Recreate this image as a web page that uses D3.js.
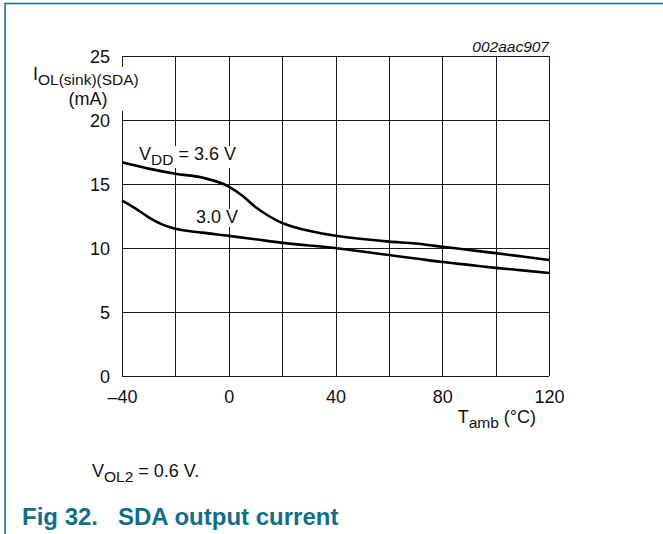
<!DOCTYPE html>
<html><head><meta charset="utf-8">
<script src="https://cdn.jsdelivr.net/npm/d3@7"></script>
<style>body{margin:0;background:#fff}svg{display:block}text{font-family:"Liberation Sans",Arial,sans-serif}</style>
</head><body><svg id="c" width="663" height="534"></svg>
<script>
const xTicks = [-40, 0, 40, 80, 120];
const xGrid = [-40, -20, 0, 20, 40, 60, 80, 100, 120];
const yTicks = [0, 5, 10, 15, 20, 25];
const temps36 = [-40, -30, -20, -10, 0, 5, 10, 15, 20, 25, 30, 40, 50, 60, 70, 80, 90, 100, 110, 120];
const vdd36 = [16.7, 16.2, 15.8, 15.5, 14.8, 14.1, 13.2, 12.5, 11.95, 11.6, 11.35, 10.95, 10.7, 10.5, 10.35, 10.1, 9.85, 9.6, 9.33, 9.06];
const temps30 = [-40, -35, -30, -25, -20, -10, 0, 10, 20, 30, 40, 50, 60, 70, 80, 90, 100, 110, 120];
const vdd30 = [13.7, 13.1, 12.4, 11.85, 11.5, 11.2, 10.95, 10.68, 10.4, 10.2, 10.0, 9.72, 9.45, 9.18, 8.9, 8.68, 8.45, 8.25, 8.05];

const svg = d3.select("#c");
const teal = "#0f6f8a";
const FS = 18, SUB = 15.5;
const x = d3.scaleLinear().domain([-40, 120]).range([122, 549]);
const y = d3.scaleLinear().domain([0, 25]).range([376, 56]);

// frame
svg.append("path").attr("d", "M5,534 V3.5 H663").attr("fill", "none").attr("stroke", teal).attr("stroke-width", 1.5);

const gridL = svg.append("g");
const bgL = svg.append("g");
const curveL = svg.append("g");
const textL = svg.append("g");

// grid
gridL.selectAll(".vg").data(xGrid).join("line")
  .attr("x1", d => Math.round(x(d)) + 0.5).attr("x2", d => Math.round(x(d)) + 0.5)
  .attr("y1", y(25)).attr("y2", y(0)).attr("stroke", "#1a1a1a").attr("stroke-width", 1);
gridL.selectAll(".hg").data(yTicks).join("line")
  .attr("x1", x(-40)).attr("x2", x(120))
  .attr("y1", d => Math.round(y(d)) + 0.5).attr("y2", d => Math.round(y(d)) + 0.5)
  .attr("stroke", "#1a1a1a").attr("stroke-width", 1);

// axes tick labels
const yAxis = d3.axisLeft(y).tickValues(yTicks).tickSize(0).tickPadding(12);
const ya = textL.append("g").attr("transform", "translate(122,0)").call(yAxis);
ya.select(".domain").remove();
ya.selectAll("text").attr("font-size", FS).attr("fill", "#111").attr("dy", "0.36em");

const xAxis = d3.axisBottom(x).tickValues(xTicks).tickSize(0).tickPadding(0).tickFormat(d => d < 0 ? "\u2013" + Math.abs(d) : d);
const xa = textL.append("g").attr("transform", "translate(0,376)").call(xAxis);
xa.select(".domain").remove();
xa.selectAll("text").attr("font-size", FS).attr("fill", "#111").attr("y", 27).attr("dy", 0);

// curves
const line = d3.line().x(d => x(d[0])).y(d => y(d[1])).curve(d3.curveMonotoneX);
curveL.append("path").datum(temps36.map((t, i) => [t, vdd36[i]])).attr("d", line)
  .attr("fill", "none").attr("stroke", "#000").attr("stroke-width", 2.6);
curveL.append("path").datum(temps30.map((t, i) => [t, vdd30[i]])).attr("d", line)
  .attr("fill", "none").attr("stroke", "#000").attr("stroke-width", 2.6);

// label helper with white background under the curves
function label(xp, yp, parts, anchor, bg) {
  const t = textL.append("text").attr("x", xp).attr("y", yp).attr("font-size", FS).attr("fill", "#111").attr("text-anchor", anchor || "start");
  parts.forEach(p => {
    const s = t.append("tspan").text(p.t);
    if (p.sub) s.attr("font-size", SUB).attr("dy", 5);
    else if (p.back) s.attr("dy", -5);
  });
  if (bg) {
    const bb = t.node().getBBox();
    bgL.append("rect").attr("x", bb.x - 2).attr("y", bb.y + 2).attr("width", bb.width + 4).attr("height", bb.height - 2).attr("fill", "#fff");
  }
  return t;
}

label(139, 160, [{t: "V"}, {t: "DD", sub: true}, {t: " = 3.6 V", back: true}], "start", true);
label(196, 223, [{t: "3.0 V"}], "start", true);
// y-axis title with background masking the axis line
const yl1 = label(33, 80, [{t: "I"}, {t: "OL(sink)(SDA)", sub: true}], "start", false);
label(88, 105, [{t: "(mA)"}], "middle", false);
const b1 = yl1.node().getBBox();
bgL.append("rect").attr("x", b1.x - 2).attr("y", 67).attr("width", b1.width + 4).attr("height", 44).attr("fill", "#fff");
label(536, 423, [{t: "T"}, {t: "amb", sub: true}, {t: " (\u00B0C)", back: true}], "end", false);

textL.append("text").attr("x", 549).attr("y", 52).attr("text-anchor", "end").attr("font-size", 15.5).attr("font-style", "italic").attr("fill", "#111").text("002aac907");

label(92, 477, [{t: "V"}, {t: "OL2", sub: true}, {t: " = 0.6 V.", back: true}], "start", false);

const f = textL.append("text").attr("x", 22).attr("y", 525).attr("font-size", 24).attr("font-weight", "bold").attr("fill", teal);
f.append("tspan").text("Fig 32.");
f.append("tspan").attr("x", 118).text("SDA output current");
</script></body></html>
